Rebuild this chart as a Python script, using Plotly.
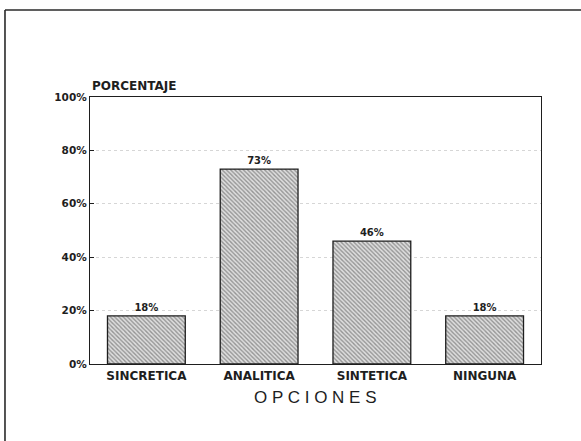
import plotly.graph_objects as go

categories = ["SINCRETICA", "ANALITICA", "SINTETICA", "NINGUNA"]
values = [18, 73, 46, 18]
value_labels = ["18%", "73%", "46%", "18%"]
tick_vals = [0, 20, 40, 60, 80, 100]
tick_text = ["0%", "20%", "40%", "60%", "80%", "100%"]

font = "DejaVu Sans, Verdana, sans-serif"
ink = "#1e1e1e"

fig = go.Figure()
fig.add_trace(go.Bar(
    x=categories, y=values,
    text=value_labels, textposition="outside",
    textfont=dict(family=font, size=10, color=ink, weight="bold"),
    cliponaxis=False,
    marker=dict(
        color="#c8c8c8",
        line=dict(color=ink, width=1.3),
        pattern=dict(shape="\\", fgcolor="#4a4a4a", bgcolor="#dedede", size=3, solidity=0.45),
    ),
    width=0.69,
))

fig.update_layout(
    width=581, height=441,
    margin=dict(l=90, r=40, t=97, b=77),
    paper_bgcolor="white", plot_bgcolor="white",
    showlegend=False,
    font=dict(family=font, size=11, color=ink),
    xaxis=dict(
        showline=True, linecolor=ink, linewidth=1.3, mirror=True,
        ticks="", tickfont=dict(family=font, size=12, color=ink, weight="bold"),
    ),
    yaxis=dict(
        range=[0, 100], tickvals=tick_vals, ticktext=tick_text,
        showline=True, linecolor=ink, linewidth=1.3, mirror=True,
        ticks="inside", ticklen=4, tickcolor=ink,
        tickfont=dict(family=font, size=10.5, color=ink, weight="bold"),
        showgrid=True, gridcolor="#d6d6d6", griddash="dot", gridwidth=1,
        zeroline=False,
    ),
    annotations=[
        dict(text="PORCENTAJE", xref="paper", yref="paper", x=0, y=1.041,
             xanchor="left", yanchor="middle", showarrow=False,
             font=dict(family=font, size=12, color=ink, weight="bold")),
        dict(text="O P C I O N E S", xref="paper", yref="paper", x=0.5, y=-0.1236,
             xanchor="center", yanchor="middle", showarrow=False,
             font=dict(family="Liberation Sans, Arial, sans-serif", size=17, color=ink)),
    ],
    shapes=[
        dict(type="line", xref="paper", yref="paper", x0=-0.1885, x1=1.1, y0=1.326, y1=1.326,
             line=dict(color="#2a2a2a", width=1.6)),
        dict(type="line", xref="paper", yref="paper", x0=-0.1885, x1=-0.1885, y0=1.326, y1=-0.3,
             line=dict(color="#2a2a2a", width=1.6)),
    ],
)

fig.write_html("out.html", config={"displayModeBar": False},
               post_script="document.body.style.margin='0';")
